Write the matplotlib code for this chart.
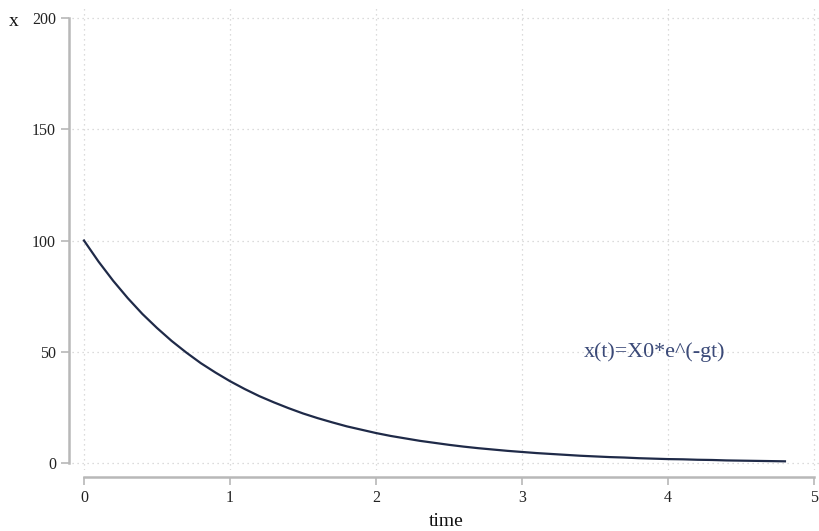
import numpy as np
import matplotlib
matplotlib.use("Agg")
import matplotlib.pyplot as plt

plt.rcParams['font.family'] = ['Liberation Serif', 'DejaVu Serif']

# time samples and x(t) values
time = np.round(np.arange(0, 4.85, 0.1), 1)
x_vals = [100, 90.5, 81.9, 74.1, 67.0, 60.7, 54.9, 49.7, 44.9, 40.7,
          36.8, 33.3, 30.1, 27.3, 24.7, 22.3, 20.2, 18.3, 16.5, 15.0,
          13.5, 12.2, 11.1, 10.0, 9.1, 8.2, 7.4, 6.7, 6.1, 5.5,
          5.0, 4.5, 4.1, 3.7, 3.3, 3.0, 2.7, 2.5, 2.2, 2.0,
          1.8, 1.7, 1.5, 1.4, 1.2, 1.1, 1.0, 0.9, 0.8]

xticks = [0, 1, 2, 3, 4, 5]
yticks = [0, 50, 100, 150, 200]
label_text = "x(t)=X0*e^(-gt)"

fig = plt.figure(figsize=(8.2, 5.31), dpi=100)
ax = fig.add_axes([72/820, 61/531, 748/820, 465/531])

ax.plot(time, x_vals, color="#1f2a48", lw=1.6)
ax.text(3.42, 50, label_text, fontsize=15.8, color="#3b4a78", va="center", ha="left")

ax.set_xlim(-0.082, 5.04)
ax.set_ylim(-3.1, 205.8)
ax.set_xticks(xticks)
ax.set_yticks(yticks)
ax.grid(True, ls=(0, (1, 3)), color="#d0d0d0", lw=0.9)
ax.yaxis.get_gridlines()[-1].set_visible(False)

for s in ["top", "right"]:
    ax.spines[s].set_visible(False)
ax.spines["left"].set_bounds(0, 200)
ax.spines["left"].set_position(("outward", 2))
ax.spines["bottom"].set_bounds(0, 5)
ax.spines["bottom"].set_position(("outward", 5))
for s in ["left", "bottom"]:
    ax.spines[s].set_color("#b8b8b8")
    ax.spines[s].set_linewidth(1.8)
ax.tick_params(colors="#b8b8b8", labelcolor="#222222", labelsize=11.5, length=6, width=1.2)

ax.set_xlabel("time", fontsize=14, color="#111111", labelpad=5)
fig.text(14/820, 1 - 22/531, "x", fontsize=14, color="#111111", ha="center", va="center")

fig.savefig("out.png", dpi=100)
